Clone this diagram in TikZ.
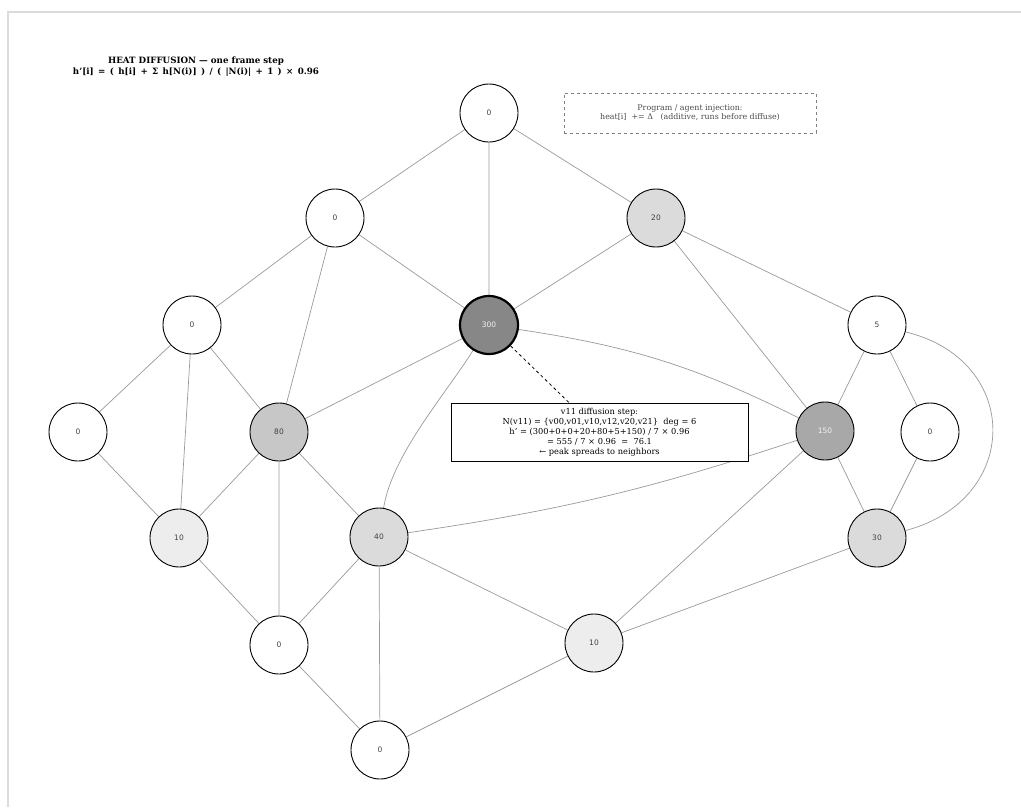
\documentclass[tikz,border=0pt]{standalone}
\usepackage{fontspec}
\setmainfont{DejaVu Serif}
\newfontfamily\numfont{DejaVu Sans}
\usetikzlibrary{backgrounds}
\begin{document}
\begin{tikzpicture}[x=1pt,y=-1pt,
  hn/.style={circle,draw=black,line width=0.9pt,minimum size=58pt,inner sep=0pt,
    font=\numfont\fontsize{7.5}{9}\selectfont,text=black!75},
  ed/.style={draw=black!40,line width=0.7pt},
  c0/.style={hn,fill=white},
  c1/.style={hn,fill=black!7},
  c2/.style={hn,fill=black!14},
  c3/.style={hn,fill=black!22},
  c4/.style={hn,fill=black!34,text=black!5},
  c5/.style={hn,fill=black!47,text=black!5,line width=2.2pt},
]
\useasboundingbox (0,0) rectangle (1021,807);
\draw[black!14,line width=1.5pt] (8,807) -- (8,12) -- (1021,12);

\node[font=\bfseries\fontsize{8.7}{11}\selectfont,align=center] (title) at (196,67)
  {HEAT DIFFUSION --- one frame step\\{\spaceskip=0.5em h'[i] = ( h[i] + Σ h[N(i)] ) / ( |N(i)| + 1 ) × 0.96}};

\node[draw=black!50,dashed,line width=0.7pt,minimum width=252pt,minimum height=40pt,align=center,
  font=\fontsize{7.9}{9}\selectfont,text=black!70] (inj) at (690,113)
  {Program / agent injection:\\heat[i] \ += Δ \ \ (additive, runs before diffuse)};

\node[c0] (t0) at (489,113) {0};
\node[c0] (a0) at (335,218) {0};
\node[c2] (b20) at (656,218) {20};
\node[c0] (c0n) at (192,325) {0};
\node[c5] (v300) at (489,325) {300};
\node[c0] (d5) at (877,325) {5};
\node[c0] (e0) at (78,432) {0};
\node[c3] (f80) at (279,432) {80};
\node[c4] (g150) at (825,431) {150};
\node[c0] (h0) at (930,432) {0};
\node[c1] (i10) at (179,538) {10};
\node[c2] (j40) at (379,537) {40};
\node[c2] (k30) at (877,538) {30};
\node[c0] (l0) at (279,645) {0};
\node[c1] (m10) at (594,643) {10};
\node[c0] (n0) at (380,750) {0};

\node[draw=black,line width=0.9pt,fill=white,minimum width=297pt,minimum height=58pt,align=center,
  font=\fontsize{8.25}{10}\selectfont] (box) at (599.5,432)
  {v11 diffusion step:\\N(v11) = \{v00,v01,v10,v12,v20,v21\} \ deg = 6\\h' = (300+0+0+20+80+5+150) / 7 × 0.96\\= 555 / 7 × 0.96 \ = \ 76.1\\← peak spreads to neighbors};

\coordinate (dx) at (569,0);
\begin{pgfonlayer}{background}
\path[ed] (t0) -- (a0) (t0) -- (b20) (t0) -- (v300)
  (a0) -- (c0n) (a0) -- (v300) (a0) -- (f80)
  (b20) -- (v300) (b20) -- (d5) (b20) -- (g150)
  (c0n) -- (e0) (c0n) -- (i10) (c0n) -- (f80)
  (v300) -- (f80)
  (d5) -- (g150) (d5) -- (h0)
  (e0) -- (i10) (f80) -- (i10) (f80) -- (j40) (f80) -- (l0)
  (g150) -- (k30) (g150) -- (m10) (h0) -- (k30)
  (i10) -- (l0) (j40) -- (l0) (j40) -- (n0) (j40) -- (m10)
  (k30) -- (m10) (l0) -- (n0) (m10) -- (n0);
\path[ed] (v300) .. controls (445,395) and (392,455) .. (j40);
\path[ed] (v300) to[bend left=9] (g150);
\path[ed] (g150) to[bend left=5] (j40);
\path[ed] (d5) .. controls (1022,360) and (1022,500) .. (k30);
\draw[dashed,line width=0.8pt] (v300) -- (dx |- box.north);
\end{pgfonlayer}
\end{tikzpicture}
\end{document}
